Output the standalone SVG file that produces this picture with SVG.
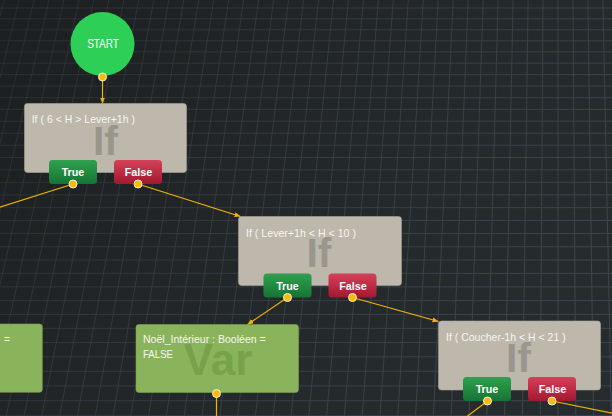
<svg xmlns="http://www.w3.org/2000/svg" width="612" height="416" viewBox="0 0 612 416">
<defs>
<linearGradient id="bg" x1="0" y1="0" x2="612" y2="416" gradientUnits="userSpaceOnUse">
<stop offset="0" stop-color="#1c1f20"/>
<stop offset="0.6" stop-color="#24292b"/>
<stop offset="1" stop-color="#272c2f"/>
</linearGradient>
<linearGradient id="gridg" x1="0" y1="0" x2="560" y2="330" gradientUnits="userSpaceOnUse">
<stop offset="0" stop-color="#3a424b" stop-opacity="0.35"/>
<stop offset="0.5" stop-color="#3a424b" stop-opacity="0.7"/>
<stop offset="1" stop-color="#3c454e" stop-opacity="1"/>
</linearGradient>
<linearGradient id="gTrue" x1="0" y1="0" x2="0" y2="1">
<stop offset="0" stop-color="#2fa14e"/>
<stop offset="1" stop-color="#167335"/>
</linearGradient>
<linearGradient id="gFalse" x1="0" y1="0" x2="0" y2="1">
<stop offset="0" stop-color="#d5405a"/>
<stop offset="1" stop-color="#a2192f"/>
</linearGradient>
<marker id="arr" markerWidth="7" markerHeight="6" refX="6" refY="2.5" orient="auto" markerUnits="userSpaceOnUse">
<path d="M0,0 L6,2.5 L0,5 z" fill="#f3b400"/>
</marker>
<style>
.ifbox{fill:#bdb7ac;stroke:#aaa499;stroke-width:0.6}
.varbox{fill:#8ab45b;stroke:#7ca34f;stroke-width:0.6}
.title{font-family:"Liberation Sans Narrow","Liberation Sans",Arial,sans-serif;font-size:11.5px;fill:#f7f6f3}
.wm{font-family:"Liberation Sans",Arial,sans-serif;font-weight:bold;font-size:41px;fill:#9b968d;text-anchor:middle}
.wmv{font-family:"Liberation Sans",Arial,sans-serif;font-weight:bold;font-size:44px;fill:#77a14b;text-anchor:middle}
.btnT{fill:url(#gTrue)}
.btnF{fill:url(#gFalse)}
.btxt{font-family:"Liberation Sans",Arial,sans-serif;font-weight:bold;font-size:11.5px;fill:#ffffff;text-anchor:middle}
.dot{fill:#fbb900;stroke:#f4f1ea;stroke-width:1}
.conn{fill:none;stroke:#f3b400;stroke-width:1.2}
</style>
</defs>
<rect x="0" y="0" width="612" height="416" fill="url(#bg)"/>
<path fill="none" stroke="url(#gridg)" stroke-width="1" d="M602.9 0L611.4 416M587.9 0L593.6 416M573 0L575.8 416M558 0L558 416M543 0L540.2 416M528.1 0L522.4 416M513.1 0L504.6 416M498.1 0L486.8 416M483.2 0L469 416M468.2 0L451.2 416M453.2 0L433.4 416M438.2 0L415.6 416M423.3 0L397.8 416M408.3 0L380 416M393.3 0L362.2 416M378.4 0L344.4 416M363.4 0L326.6 416M348.4 0L308.8 416M333.5 0L291 416M318.5 0L273.2 416M303.5 0L255.4 416M288.5 0L237.6 416M273.6 0L219.8 416M258.6 0L202 416M243.6 0L184.2 416M228.7 0L166.4 416M213.7 0L148.6 416M198.7 0L130.8 416M183.8 0L113 416M168.8 0L95.2 416M153.8 0L77.4 416M138.8 0L59.6 416M123.9 0L41.8 416M108.9 0L24 416M93.9 0L6.2 416M79 0L-11.6 416M64 0L-29.4 416M49 0L-47.2 416M34.1 0L-65 416M19.1 0L-82.8 416M4.1 0L-100.6 416M-10.8 0L-118.4 416M0 8H612M0 18.8H612M0 29.8H612M0 40.8H612M0 51.9H612M0 63.2H612M0 74.6H612M0 86.1H612M0 97.7H612M0 109.4H612M0 121.2H612M0 133.2H612M0 145.3H612M0 157.5H612M0 169.8H612M0 182.3H612M0 194.9H612M0 207.6H612M0 220.5H612M0 233.5H612M0 246.7H612M0 260H612M0 273.4H612M0 286.9H612M0 300.6H612M0 314.4H612M0 328.4H612M0 342.5H612M0 356.8H612M0 371.3H612M0 385.9H612M0 400.7H612M0 415.6H612"/>
<g id="connectors">
<path class="conn" d="M102.5 80.5L102.5 103.5" marker-end="url(#arr)"/>
<path class="conn" d="M73 184L-3 208"/>
<path class="conn" d="M138 184L240.5 216.5" marker-end="url(#arr)"/>
<path class="conn" d="M287.5 297.5L247.5 324.5" marker-end="url(#arr)"/>
<path class="conn" d="M352.5 297.5L438.5 321.5" marker-end="url(#arr)"/>
<path class="conn" d="M487.5 401L465 418"/>
<path class="conn" d="M552 401L614 413.5"/>
<path class="conn" d="M216.5 393.5L216.5 418"/>
</g>
<g id="start">
<circle cx="102.5" cy="44" r="32" fill="#2ecf56"/>
<text x="103" y="48" font-family="'Liberation Sans Narrow','Liberation Sans',Arial,sans-serif" font-size="13" fill="#ffffff" text-anchor="middle" textLength="31.7" lengthAdjust="spacingAndGlyphs">START</text>
<circle class="dot" cx="102.5" cy="77" r="4"/>
</g>
<g id="if1">
<rect class="ifbox" x="24.5" y="103.5" width="162" height="69" rx="3"/>
<text class="wm" x="105.5" y="154.5">If</text>
<text class="title" x="31.7" y="123" textLength="103.3" lengthAdjust="spacingAndGlyphs">If ( 6 &lt; H &gt; Lever+1h )</text>
<rect class="btnT" x="49" y="160" width="48" height="24" rx="3.5"/>
<text class="btxt" x="73" y="176" textLength="22.7" lengthAdjust="spacingAndGlyphs">True</text>
<rect class="btnF" x="114" y="160" width="48" height="24" rx="3.5"/>
<text class="btxt" x="138.5" y="176" textLength="27.7" lengthAdjust="spacingAndGlyphs">False</text>
<circle class="dot" cx="73" cy="184" r="4"/>
<circle class="dot" cx="138" cy="184" r="4"/>
</g>
<g id="if2">
<rect class="ifbox" x="238.5" y="216.5" width="163" height="69" rx="3"/>
<text class="wm" x="319" y="267">If</text>
<text class="title" x="246" y="237.3" textLength="110" lengthAdjust="spacingAndGlyphs">If ( Lever+1h &lt; H &lt; 10 )</text>
<rect class="btnT" x="263.5" y="273.5" width="48" height="24" rx="3.5"/>
<text class="btxt" x="287.5" y="289.5" textLength="22.7" lengthAdjust="spacingAndGlyphs">True</text>
<rect class="btnF" x="328.5" y="273.5" width="48" height="24" rx="3.5"/>
<text class="btxt" x="353" y="289.5" textLength="27.7" lengthAdjust="spacingAndGlyphs">False</text>
<circle class="dot" cx="287.5" cy="297.5" r="4"/>
<circle class="dot" cx="352.5" cy="297.5" r="4"/>
</g>
<g id="if3">
<rect class="ifbox" x="438.5" y="321" width="162" height="69" rx="3"/>
<text class="wm" x="518.5" y="372">If</text>
<text class="title" x="446" y="340.7" textLength="119.7" lengthAdjust="spacingAndGlyphs">If ( Coucher-1h &lt; H &lt; 21 )</text>
<rect class="btnT" x="463" y="377" width="48" height="24" rx="3.5"/>
<text class="btxt" x="487" y="393" textLength="22.7" lengthAdjust="spacingAndGlyphs">True</text>
<rect class="btnF" x="528" y="377" width="48" height="24" rx="3.5"/>
<text class="btxt" x="552.5" y="393" textLength="27.7" lengthAdjust="spacingAndGlyphs">False</text>
<circle class="dot" cx="487.5" cy="401" r="4"/>
<circle class="dot" cx="552" cy="401" r="4"/>
</g>
<g id="var1">
<rect class="varbox" x="136" y="324.5" width="162.5" height="68" rx="3"/>
<text class="wmv" x="218" y="375">Var</text>
<text class="title" x="143" y="343" textLength="122.7" lengthAdjust="spacingAndGlyphs">Noël_Intérieur : Booléen =</text>
<text class="title" x="143" y="357.7" textLength="30" lengthAdjust="spacingAndGlyphs">FALSE</text>
<circle class="dot" cx="216.5" cy="393.5" r="4"/>
</g>
<g id="var0">
<rect class="varbox" x="-120" y="324" width="162.3" height="68.3" rx="3"/>
<text class="title" x="4" y="343" textLength="6" lengthAdjust="spacingAndGlyphs">=</text>
</g>
</svg>
